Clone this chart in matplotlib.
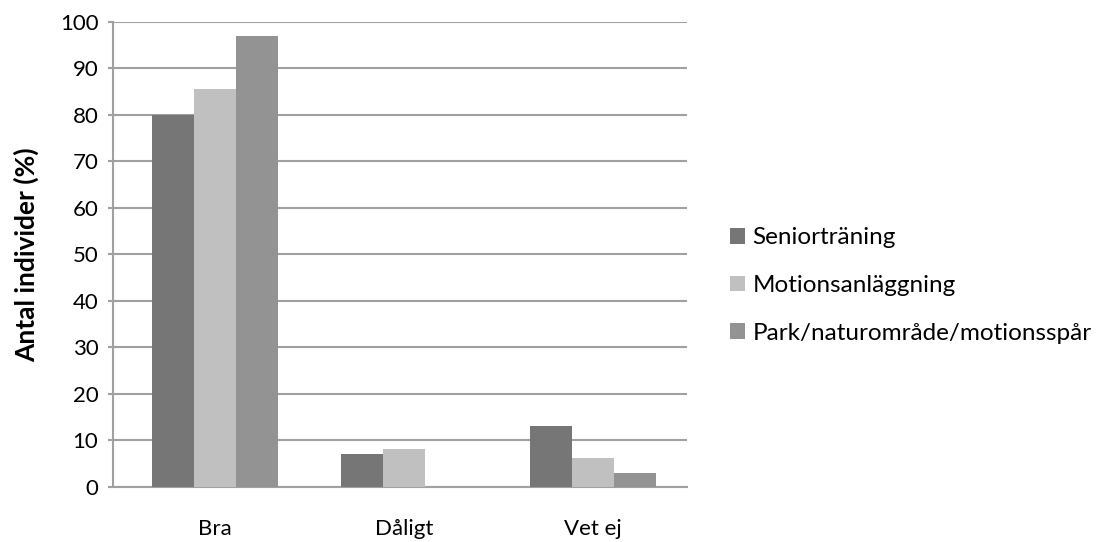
import numpy as np
import matplotlib.pyplot as plt

# Andel individer per bedömning och typ av miljö
kategorier = ['Bra', 'Dåligt', 'Vet ej']
serier = ['Seniorträning', 'Motionsanläggning', 'Park/naturområde/motionsspår']
seniortraning = [80.0, 7.0, 13.1]
motionsanlaggning = [85.6, 8.2, 6.2]
park = [96.9, 0.0, 3.1]
farger = ['#767676', '#c0c0c0', '#939393']

plt.rcParams['font.family'] = ['Lato', 'DejaVu Sans']

fig = plt.figure(figsize=(11.02, 5.42), dpi=100)
ax = fig.add_axes([0.1025, 0.1015, 0.521, 0.8585])

x = np.arange(len(kategorier))
bredd = 0.222
for i, (varden, namn) in enumerate(zip([seniortraning, motionsanlaggning, park], serier)):
    ax.bar(x + (i - 1) * bredd, varden, bredd, color=farger[i], label=namn, zorder=3)

ax.set_xlim(-0.54, 2.497)
ax.set_ylim(0, 100)
ax.set_yticks(np.arange(0, 101, 10))
ax.set_xticks(x)
ax.set_xticklabels(kategorier)
ax.yaxis.grid(True, color='#a0a0a0', linewidth=1.5, zorder=0)

for s in ['top', 'right']:
    ax.spines[s].set_visible(False)
for s in ['left', 'bottom']:
    ax.spines[s].set_color('#a0a0a0')
    ax.spines[s].set_linewidth(1.5)

ax.tick_params(axis='y', colors='#a0a0a0', labelcolor='black', length=3.5, width=1.5,
               labelsize=16, pad=7)
ax.tick_params(axis='x', length=0, labelsize=16, pad=23)
ax.set_ylabel('Antal individer (%)', fontsize=19, fontweight='bold', labelpad=15)

ax.legend(loc='center left', bbox_to_anchor=(1.075, 0.433), frameon=False, fontsize=17.5,
          borderpad=0, borderaxespad=0,
          handlelength=0.62, handleheight=0.62, handletextpad=0.3, labelspacing=1.1)

plt.savefig('out.png', dpi=100)
